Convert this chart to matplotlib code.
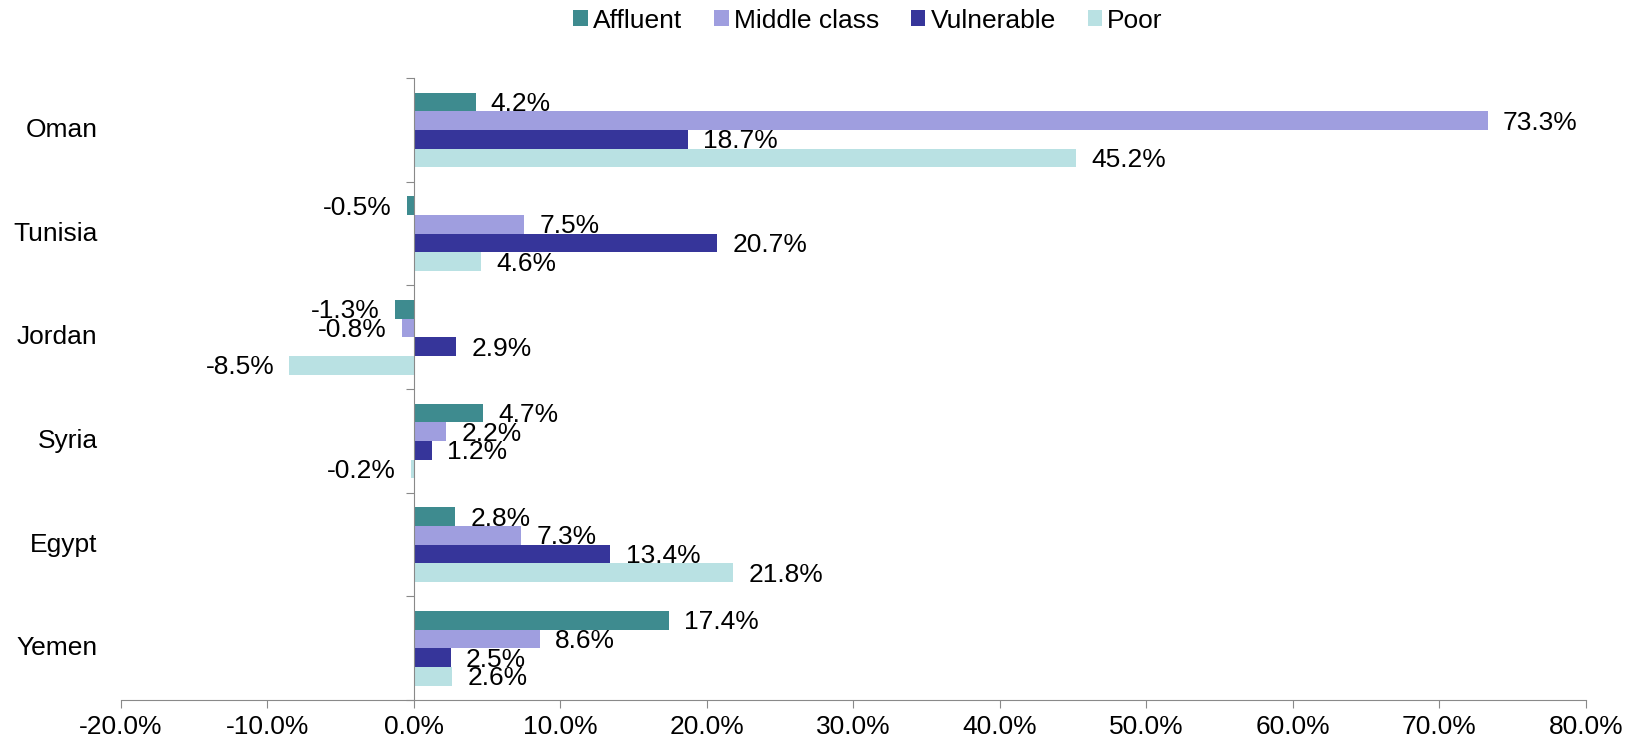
import matplotlib.pyplot as plt
from matplotlib.ticker import MultipleLocator, FuncFormatter
import numpy as np

plt.rcParams['font.family'] = ['Liberation Sans', 'DejaVu Sans']

countries = ['Oman', 'Tunisia', 'Jordan', 'Syria', 'Egypt', 'Yemen']
series = ['Affluent', 'Middle class', 'Vulnerable', 'Poor']
affluent = [4.2, -0.5, -1.3, 4.7, 2.8, 17.4]
middle = [73.3, 7.5, -0.8, 2.2, 7.3, 8.6]
vulnerable = [18.7, 20.7, 2.9, 1.2, 13.4, 2.5]
poor = [45.2, 4.6, -8.5, -0.2, 21.8, 2.6]
colors = ['#3E8B8F', '#9F9EDF', '#36359A', '#B9E1E3']

fs = 19

fig = plt.figure(figsize=(16.35, 7.44), dpi=100)
ax = fig.add_axes([0.074, 0.059, 0.8960, 0.836])

y = np.arange(len(countries))
h = 0.18
for i, (name, vals) in enumerate(zip(series, [affluent, middle, vulnerable, poor])):
    pos = y - 1.5 * h + i * h
    ax.barh(pos, vals, height=h, color=colors[i], label=name)
    for p, v in zip(pos, vals):
        if v >= 0:
            ax.annotate('%.1f%%' % v, (v, p), xytext=(11, -1.5), textcoords='offset points',
                        ha='left', va='center', fontsize=fs)
        else:
            ax.annotate('%.1f%%' % v, (v, p), xytext=(-11, -1.5), textcoords='offset points',
                        ha='right', va='center', fontsize=fs)

ax.set_xlim(-20, 80)
ax.set_ylim(5.5, -0.5)
ax.xaxis.set_major_locator(MultipleLocator(10))
ax.xaxis.set_major_formatter(FuncFormatter(lambda v, _: '%.1f%%' % v))
ax.tick_params(axis='x', length=6, color='#898989', labelsize=fs, pad=5)

# y axis sits at x=0, ticks at category boundaries, labels far left
ax.spines['left'].set_position(('data', 0))
ax.spines['left'].set_color('#898989')
ax.spines['bottom'].set_color('#898989')
ax.spines['top'].set_visible(False)
ax.spines['right'].set_visible(False)
ax.set_yticks(np.arange(-0.5, 6, 1))
ax.set_yticklabels([])
ax.tick_params(axis='y', length=6, color='#898989')
for yy, c in zip(y, countries):
    ax.text(-0.016, yy, c, transform=ax.get_yaxis_transform(), ha='right', va='center',
            fontsize=fs)

ax.legend(loc='upper center', bbox_to_anchor=(0.51, 1.15), ncol=4, frameon=False,
          fontsize=fs, handlelength=0.55, handleheight=0.55, handletextpad=0.2, columnspacing=1.2)

fig.savefig('out.png')
